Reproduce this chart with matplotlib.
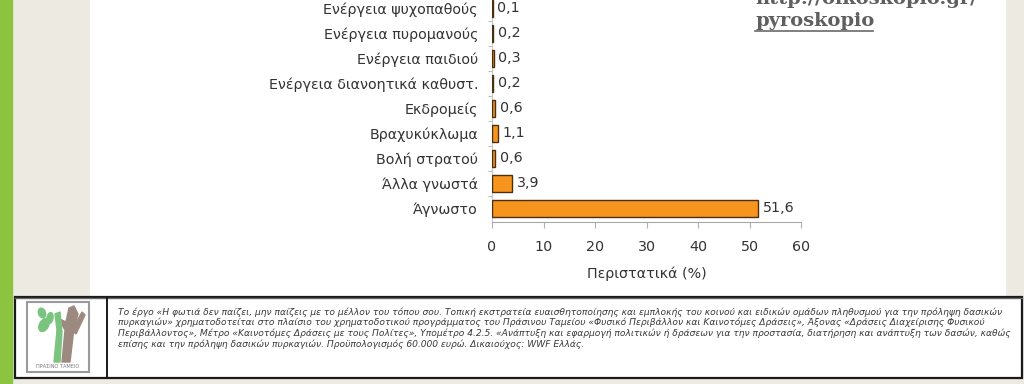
import matplotlib.pyplot as plt
from matplotlib.patches import Rectangle, Polygon, Ellipse
import numpy as np

# data (bottom to top)
categories = ["Άγνωστο", "Άλλα γνωστά", "Βολή στρατού", "Βραχυκύκλωμα",
              "Εκδρομείς", "Ενέργεια διανοητικά καθυστ.", "Ενέργεια παιδιού",
              "Ενέργεια πυρομανούς", "Ενέργεια ψυχοπαθούς"]
values = [51.6, 3.9, 0.6, 1.1, 0.6, 0.2, 0.3, 0.2, 0.1]
xticks = [0, 10, 20, 30, 40, 50, 60]
xlabel = "Περιστατικά (%)"
link_lines = ["http://oikoskopio.gr/", "pyroskopio"]
footer_lines = [
    "Το έργο «Η φωτιά δεν παίζει, μην παίζεις με το μέλλον του τόπου σου. Τοπική εκστρατεία ευαισθητοποίησης και εμπλοκής του κοινού και ειδικών ομάδων πληθυσμού για την πρόληψη δασικών",
    "πυρκαγιών» χρηματοδοτείται στο πλαίσιο του χρηματοδοτικού προγράμματος του Πράσινου Ταμείου «Φυσικό Περιβάλλον και Καινοτόμες Δράσεις», Άξονας «Δράσεις Διαχείρισης Φυσικού",
    "Περιβάλλοντος», Μέτρο «Καινοτόμες Δράσεις με τους Πολίτες», Υπομέτρο 4.2.5. «Ανάπτυξη και εφαρμογή πολιτικών ή δράσεων για την προστασία, διατήρηση και ανάπτυξη των δασών, καθώς",
    "επίσης και την πρόληψη δασικών πυρκαγιών. Προϋπολογισμός 60.000 ευρώ. Δικαιούχος: WWF Ελλάς.",
]

W, H = 1024, 384
fig = plt.figure(figsize=(W / 100, H / 100), dpi=100)
fig.patch.set_facecolor("white")

# background / slide decoration in pixel coords
bg = fig.add_axes([0, 0, 1, 1])
bg.set_xlim(0, W)
bg.set_ylim(H, 0)
bg.axis("off")
bg.add_patch(Rectangle((0, 0), W, H, color="#ECEAE1", zorder=0))
bg.add_patch(Rectangle((90, 0), 915, 297, color="white", zorder=1))
bg.add_patch(Rectangle((0, 0), 12, H, color="#8CC43F", zorder=2))
bg.add_patch(Rectangle((15, 297), 1007, 81, facecolor="white",
                       edgecolor="#1a1a1a", lw=1.6, zorder=2))
bg.plot([15, 1022], [297.5, 297.5], color="#666666", lw=1.0, zorder=3)
bg.plot([107, 107], [297, 378], color="#1a1a1a", lw=1.4, zorder=3)

# logo
bg.add_patch(Rectangle((27, 302), 62, 70, facecolor="white", edgecolor="#9a9a9a", lw=1.5, zorder=3))
bg.add_patch(Polygon([[62, 362], [65, 330], [58, 318], [66, 322], [69, 308],
                      [74, 306], [78, 314], [74, 328], [70, 362]],
                     closed=True, color="#9C8A80", zorder=4))
bg.add_patch(Polygon([[72, 330], [82, 312], [85, 315], [76, 334]],
                     closed=True, color="#9C8A80", zorder=4))
bg.add_patch(Polygon([[54, 362], [57, 330], [55, 314], [60, 312], [62, 332], [60, 362]],
                     closed=True, color="#7BC47F", zorder=5))
bg.add_patch(Ellipse((44, 325), 9, 14, angle=30, color="#7BC47F", zorder=5))
bg.add_patch(Ellipse((42, 313), 7, 10, angle=-20, color="#7BC47F", zorder=5))
bg.add_patch(Ellipse((50, 318), 6, 11, angle=10, color="#7BC47F", zorder=5))
bg.text(58, 367, "ΠΡΑΣΙΝΟ ΤΑΜΕΙΟ", fontsize=3.6, color="#777777",
        ha="center", va="center", zorder=5)

for i, line in enumerate(footer_lines):
    bg.text(118, 312 + i * 10.6, line, fontsize=6.6, style="italic",
            family="DejaVu Sans", color="#3a3a3a", va="center", zorder=5)

# link text, partly cut off at the top
bg.text(755, 4, link_lines[0], fontsize=14, fontweight="bold",
        family="DejaVu Serif", color="#5f5f5f", va="baseline", zorder=5)
bg.text(755, 26, link_lines[1], fontsize=14, fontweight="bold",
        family="DejaVu Serif", color="#5f5f5f", va="baseline", zorder=5)
bg.plot([755, 873], [30.5, 30.5], color="#6a6a6a", lw=1.2, zorder=5)

# chart
ax = fig.add_axes([492 / W, 1 - 222 / H, 309 / W, 251.5 / H])
ax.patch.set_alpha(0)
y = np.arange(len(categories))
bars = ax.barh(y, values, height=0.68, color="#F7941D",
               edgecolor="#4a3010", linewidth=1.0, zorder=3)
for yi, v in zip(y, values):
    ax.annotate(f"{v:.1f}".replace(".", ","), (v, yi), xytext=(3.5, 0),
                textcoords="offset points", va="center", ha="left",
                fontsize=10.3, color="#333333")

ax.set_xlim(0, 60)
ax.set_ylim(-0.56, len(categories) + 0.5)
ax.set_xticks(xticks)
ax.set_xticklabels([str(t) for t in xticks])
ax.set_yticks(y)
ax.set_yticklabels(categories)
ax.set_yticks(np.arange(len(categories)) + 0.5, minor=True)
ax.tick_params(axis="y", which="major", length=0, pad=10, labelsize=10.3,
               labelcolor="#333333")
ax.tick_params(axis="y", which="minor", length=3, color="#b0b0b0", direction="out")
ax.tick_params(axis="x", length=4, color="#b0b0b0", pad=9, labelsize=10.3,
               labelcolor="#333333", direction="out")
for s in ["top", "right"]:
    ax.spines[s].set_visible(False)
ax.spines["left"].set_color("#c8c8c8")
ax.spines["bottom"].set_color("#a8a8a8")
ax.set_xlabel(xlabel, fontsize=10.3, color="#333333", labelpad=9)

fig.savefig("out.png", dpi=100)
